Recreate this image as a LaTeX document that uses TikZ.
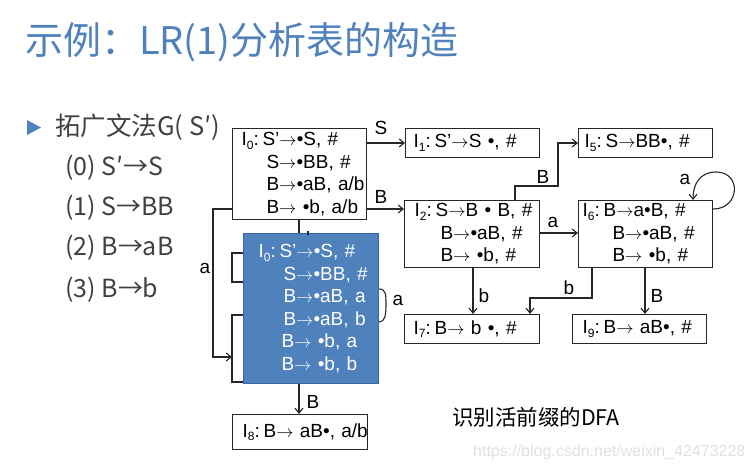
\documentclass[tikz,border=0pt]{standalone}
\usepackage{fontspec}
\usetikzlibrary{arrows.meta,calc}
\newfontfamily\boxfont{Liberation Sans}
\newfontfamily\cjkfont{Noto Sans CJK SC}
\definecolor{titleblue}{HTML}{4F81BD}
\definecolor{fillblue}{HTML}{4F81BD}
\definecolor{edgeblue}{HTML}{3A679C}
\definecolor{listgray}{HTML}{404040}
\newcommand\ssub[1]{\raisebox{-0.35ex}{\fontsize{12}{12}\selectfont #1}:\hspace{0.2em}}
\newcommand\ar{\ensuremath{\rightarrow}}
\newcommand\bl[1]{\mbox{#1}}
\begin{document}
\begin{tikzpicture}[x=1pt,y=-1pt,
 box/.style={draw=black!85, line width=1.1pt, anchor=north west, inner ysep=0pt, align=left, font=\boxfont\fontsize{19}{22.5}\selectfont},
 conn/.style={draw=black!85, line width=1.1pt, -{Straight Barb[length=5pt,width=8pt]}},
 plain/.style={draw=black!85, line width=1.1pt},
 lbl/.style={font=\boxfont\fontsize{19}{19}\selectfont, inner sep=0pt},
 listitem/.style={font=\cjkfont\fontsize{25}{25}\selectfont, text=listgray, anchor=west, inner sep=0pt}]
\useasboundingbox (0,0) rectangle (753,471);

% title
\node[font=\cjkfont\fontsize{38}{38}\selectfont, text=titleblue, anchor=west, inner sep=0pt] (title) at (25,42) {示例：LR(1)分析表的构造};

% list
\fill[titleblue] (27,120) -- (41,127.5) -- (27,135) -- cycle;
\node[listitem, font=\cjkfont\fontsize{25.5}{25.5}\selectfont] (g) at (55,127) {拓广文法G( S′)};
\node[listitem] (p0) at (65,168) {(0) S′→S};
\node[listitem] (p1) at (65,208) {(1) S→BB};
\node[listitem] (p2) at (65,248) {(2) B→aB};
\node[listitem] (p3) at (65,290) {(3) B→b};

% boxes
\node[box, minimum height=91pt, inner xsep=9pt, text width=116pt] (i0) at (232,128)
 {\bl{I\ssub{0}S’\ar•S, \#}\\\bl{\hspace*{25pt}S\ar•BB, \#}\\\bl{\hspace*{25pt}B\ar•aB, a/b}\\\bl{\hspace*{25pt}B\ar{} •b, a/b}};
\node[box, fill=fillblue, draw=edgeblue, text=white, minimum height=150pt, inner xsep=15pt, text width=105pt] (b0) at (243,233)
 {\bl{I\ssub{0}S’\ar•S, \#}\\\bl{\hspace*{25pt}S\ar•BB, \#}\\\bl{\hspace*{25pt}B\ar•aB, a}\\\bl{\hspace*{25pt}B\ar•aB, b}\\\bl{\hspace*{23pt}B\ar{} •b, a}\\\bl{\hspace*{23pt}B\ar{} •b, b}};
\node[box, minimum height=35pt, inner xsep=10pt, text width=115pt] (i8) at (232,414) {\bl{I\ssub{8}B\ar{} aB•, a/b}};
\node[box, minimum height=29pt, inner xsep=8pt, text width=118pt] (i1) at (405,128) {\bl{I\ssub{1}S’\ar S •, \#}};
\node[box, minimum height=29pt, inner xsep=6pt, text width=122pt] (i5) at (578,128) {\bl{I\ssub{5}S\ar BB•, \#}};
\node[box, minimum height=67pt, inner xsep=10pt, text width=115pt] (i2) at (404,200)
 {\bl{I\ssub{2}S\ar B • B, \#}\\\bl{\hspace*{26pt}B\ar•aB, \#}\\\bl{\hspace*{26pt}B\ar{} •b, \#}};
\node[box, minimum height=67pt, inner xsep=4pt, text width=126pt] (i6) at (578,200)
 {\bl{I\ssub{6}B\ar a•B, \#}\\\bl{\hspace*{30pt}B\ar•aB, \#}\\\bl{\hspace*{30pt}B\ar{} •b, \#}};
\node[box, minimum height=29pt, inner xsep=9pt, text width=117pt] (i7) at (404,314) {\bl{I\ssub{7}B\ar{} b •, \#}};
\node[box, minimum height=29pt, inner xsep=10pt, text width=114pt] (i9) at (572,314) {\bl{I\ssub{9}B\ar{} aB•, \#}};

% connectors
\draw[conn] (i0.east |- 0,143) -- (i1.west |- 0,143);
\node[lbl] (ls) at (381,128) {S};
\draw[conn] (i0.east |- 0,209) -- (i2.west |- 0,209);
\node[lbl] (lb1) at (381,197) {B};
\draw[conn] (i2.north -| 515,0) -- (515,186) -- (558,186) -- (558,143) -- (i5.west |- 0,143);
\node[lbl] (lb2) at (543,177) {B};
\draw[conn] (i2.east |- 0,233) -- (i6.west |- 0,233);
\node[lbl] (la1) at (553,222) {a};
\draw[conn] (i6.east |- 0,209) .. controls (740,209) and (742,172) .. (716,172) .. controls (700,172) and (693,184) .. (i6.north -| 693,0);
\node[lbl] (la2) at (685,179) {a};
\draw[conn] (i2.south -| 473,0) -- (i7.north -| 473,0);
\node[lbl] (lb3) at (484,296) {b};
\draw[conn] (i6.south -| 592,0) -- (592,298) -- (530,298) -- (i7.north -| 530,0);
\node[lbl] (lb4) at (569,288) {b};
\draw[conn] (i6.south -| 645,0) -- (i9.north -| 645,0);
\node[lbl] (lb5) at (657,296) {B};

% I0 to expanded box
\draw[plain] (i0.south -| 299,0) -- (b0.north -| 299,0);
\draw[plain] (308,231) -- (308,235);
\draw[plain] (b0.west |- 0,253) -- (232,253) -- (232,282) -- (b0.west |- 0,282);
\draw[plain] (b0.west |- 0,315) -- (232,315) -- (232,382) -- (b0.west |- 0,382);
\coordinate (brk) at (232,357);
\draw[conn] (i0.west |- 0,209) -- (213,209) -- (213,357) -- (brk);
\node[lbl] (la3) at (205,268) {a};
\draw[plain] (b0.east |- 0,289) .. controls (386,289) and (386,295) .. (386,304) .. controls (386,315) and (385,322) .. (b0.east |- 0,322);
\node[lbl] (la4) at (398,300) {a};
\draw[conn] (b0.south -| 299,0) -- (i8.north -| 299,0);
\node[lbl] (lb6) at (313,402) {B};

% captions
\node[font=\cjkfont\fontsize{21.5}{21.5}\selectfont, anchor=west, inner sep=0pt] (dfa) at (452,417) {识别活前缀的DFA};
\node[font=\boxfont\fontsize{16}{16}\selectfont, text=black!12, anchor=west, inner sep=0pt] (wm) at (473,452) {https://blog.csdn.net/weixin\_42473228};
\end{tikzpicture}
\end{document}
